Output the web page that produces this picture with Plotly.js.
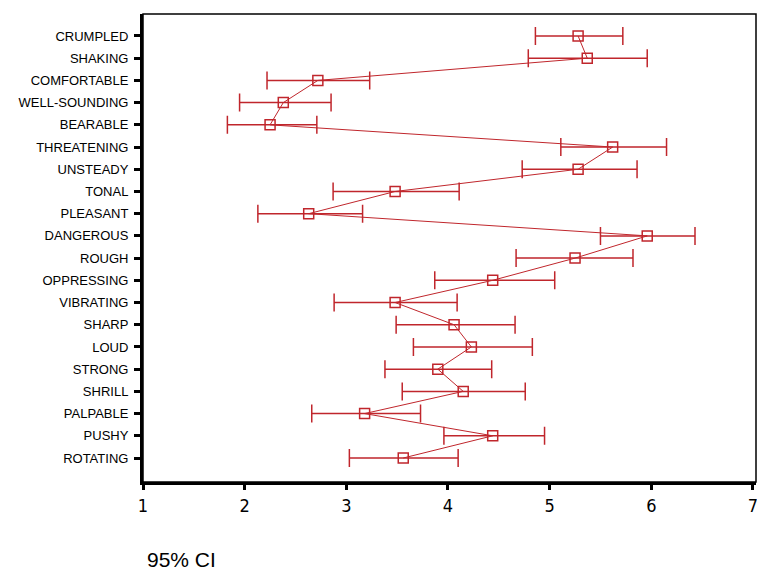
<!DOCTYPE html>
<html>
<head>
<meta charset="utf-8">
<script src="https://cdn.plot.ly/plotly-3.0.1.min.js"></script>
<style>html,body{margin:0;padding:0;background:#fff;}#chart{width:757px;height:570px;}</style>
</head>
<body>
<div id="chart"></div>
<script>
const categories = ["CRUMPLED","SHAKING","COMFORTABLE","WELL-SOUNDING","BEARABLE","THREATENING","UNSTEADY","TONAL","PLEASANT","DANGEROUS","ROUGH","OPPRESSING","VIBRATING","SHARP","LOUD","STRONG","SHRILL","PALPABLE","PUSHY","ROTATING"];
const means = [5.28,5.37,2.72,2.38,2.25,5.62,5.28,3.48,2.63,5.96,5.25,4.44,3.48,4.06,4.23,3.90,4.15,3.18,4.44,3.56];
const lower = [4.86,4.79,2.22,1.95,1.83,5.11,4.73,2.87,2.13,5.50,4.67,3.87,2.88,3.49,3.66,3.38,3.55,2.66,3.96,3.03];
const upper = [5.72,5.96,3.23,2.85,2.71,6.15,5.86,4.11,3.16,6.43,5.82,5.05,4.09,4.66,4.83,4.43,4.76,3.73,4.95,4.10];
const xTicks = [1,2,3,4,5,6,7];
const footnote = "95% CI";

const red = "#c0262c";
const trace = {
  type: "scatter",
  mode: "lines+markers",
  x: means,
  y: categories,
  line: {color: red, width: 1},
  marker: {symbol: "square-open", size: 10, color: red, line: {width: 1.5, color: red}},
  error_x: {
    type: "data",
    symmetric: false,
    array: upper.map((u, i) => u - means[i]),
    arrayminus: means.map((m, i) => m - lower[i]),
    color: red,
    thickness: 1.5,
    width: 9
  },
  hoverinfo: "x+y"
};

const layout = {
  width: 757,
  height: 570,
  margin: {l: 143, r: 1, t: 14, b: 88},
  paper_bgcolor: "#ffffff",
  plot_bgcolor: "#ffffff",
  showlegend: false,
  font: {family: "Arial, 'Liberation Sans', sans-serif", color: "#000"},
  xaxis: {
    range: [1, 7.03],
    tickvals: xTicks,
    ticktext: xTicks.map(String),
    showgrid: false,
    zeroline: false,
    showline: true,
    linecolor: "#000",
    linewidth: 3,
    ticks: "outside",
    ticklen: 5,
    tickwidth: 3,
    tickcolor: "#000",
    ticklabeloverflow: "allow",
    tickfont: {family: "'Liberation Sans Narrow', 'DejaVu Sans Condensed', sans-serif", size: 18, color: "#000"}
  },
  yaxis: {
    type: "category",
    categoryorder: "array",
    categoryarray: categories,
    range: [20.08, -0.99],
    showgrid: false,
    zeroline: false,
    showline: true,
    linecolor: "#000",
    linewidth: 3,
    ticks: "outside",
    ticklen: 6,
    tickwidth: 3,
    tickcolor: "#000",
    ticklabelstandoff: 3,
    tickfont: {family: "Arial, 'Liberation Sans', sans-serif", size: 13, color: "#000"}
  },
  shapes: [{
    type: "rect", xref: "paper", yref: "paper", x0: 0, x1: 1, y0: 0, y1: 1,
    line: {color: "#000", width: 1.5}, fillcolor: "rgba(0,0,0,0)", layer: "above"
  }],
  annotations: [{
    text: footnote, xref: "paper", yref: "paper", x: 0.003, y: -0.165,
    xanchor: "left", yanchor: "middle", showarrow: false,
    font: {family: "Arial, 'Liberation Sans', sans-serif", size: 21, color: "#000"}
  }]
};

Plotly.newPlot("chart", [trace], layout, {displayModeBar: false, staticPlot: true});
</script>
</body>
</html>
